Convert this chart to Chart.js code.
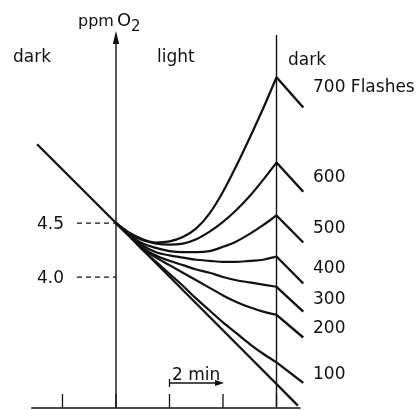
<!DOCTYPE html>
<html>
<head>
<meta charset="utf-8">
<script src="https://cdn.jsdelivr.net/npm/chart.js@4"></script>
<style>
  html, body { margin: 0; padding: 0; background: #fff; }
  #wrap { width: 417px; height: 410px; }
</style>
</head>
<body>
<div id="wrap"><canvas id="c" width="417" height="410"></canvas></div>
<script>
// ---- data (minutes, ppm O2) ----
const lightTimes = [0, 0.5, 1, 1.5, 2, 2.5, 3, 3.5, 4, 4.5, 5, 5.5, 6];
const flash700 = [4.50, 4.41, 4.35, 4.32, 4.33, 4.37, 4.45, 4.59, 4.79, 5.03, 5.29, 5.56, 5.85];
const flash600 = [4.50, 4.40, 4.34, 4.31, 4.30, 4.31, 4.35, 4.42, 4.51, 4.62, 4.75, 4.90, 5.06];
const flash500 = [4.50, 4.39, 4.31, 4.27, 4.24, 4.23, 4.23, 4.24, 4.28, 4.33, 4.40, 4.48, 4.57];
const flash400 = [4.50, 4.38, 4.29, 4.23, 4.20, 4.18, 4.16, 4.15, 4.14, 4.14, 4.15, 4.16, 4.19];
const flash300 = [4.50, 4.38, 4.27, 4.20, 4.15, 4.11, 4.07, 4.04, 4.00, 3.97, 3.95, 3.93, 3.91];
const flash200 = [4.50, 4.38, 4.26, 4.18, 4.11, 4.04, 3.97, 3.90, 3.83, 3.77, 3.72, 3.68, 3.65];
const flash100 = [4.50, 4.38, 4.25, 4.14, 4.03, 3.92, 3.80, 3.69, 3.58, 3.48, 3.38, 3.29, 3.21];
const flashSeries = [flash700, flash600, flash500, flash400, flash300, flash200, flash100];
const flashLabels = ['700 Flashes', '600', '500', '400', '300', '200', '100'];
const darkAfterTime = 7;
const darkAfterValues = [5.57, 4.79, 4.32, 3.94, 3.68, 3.44, 3.02];
// dark respiration line (no flashes)
const darkLineTimes = [-2.95, 0, 6, 6.8];
const darkLineValues = [5.23, 4.50, 3.01, 2.81];
// axis ticks
const xTickValues = [-2, 0, 2, 4, 6];
const yTickValues = [4.5, 4.0];
const yTickLabels = ['4.5', '4.0'];
const phaseLabels = ['dark', 'light', 'dark'];

// ---- build datasets ----
const INK = '#111';
const datasets = [];
datasets.push({
  data: darkLineTimes.map((t, i) => ({x: t, y: darkLineValues[i]})),
  borderColor: INK, borderWidth: 2.3, tension: 0, pointRadius: 0
});
flashSeries.forEach((s, k) => {
  datasets.push({
    data: lightTimes.map((t, i) => ({x: t, y: s[i]})),
    borderColor: INK, borderWidth: 2.2, cubicInterpolationMode: 'monotone', pointRadius: 0
  });
  datasets.push({
    data: [{x: lightTimes[lightTimes.length - 1], y: s[s.length - 1]}, {x: darkAfterTime, y: darkAfterValues[k]}],
    borderColor: INK, borderWidth: 2.4, tension: 0, pointRadius: 0
  });
});

const FONT = '"DejaVu Sans", sans-serif';

const decor = {
  id: 'decor',
  afterDatasetsDraw(chart) {
    const ctx = chart.ctx;
    const xs = chart.scales.x, ys = chart.scales.y;
    const X = v => xs.getPixelForValue(v);
    const Y = v => ys.getPixelForValue(v);
    ctx.save();
    ctx.strokeStyle = INK; ctx.fillStyle = INK;
    ctx.lineCap = 'butt';
    const yBottom = Y(2.787);
    // bottom axis
    ctx.lineWidth = 1.6;
    ctx.beginPath(); ctx.moveTo(X(-3.17), yBottom); ctx.lineTo(X(6.9), yBottom); ctx.stroke();
    // ticks
    ctx.lineWidth = 1.3;
    xTickValues.forEach(v => {
      ctx.beginPath(); ctx.moveTo(X(v), yBottom); ctx.lineTo(X(v), yBottom - 14); ctx.stroke();
    });
    // y axis (light on) with arrow
    ctx.lineWidth = 1.4;
    ctx.beginPath(); ctx.moveTo(X(0), yBottom); ctx.lineTo(X(0), 40); ctx.stroke();
    ctx.beginPath(); ctx.moveTo(X(0), 31); ctx.lineTo(X(0) - 3.2, 44); ctx.lineTo(X(0) + 3.2, 44); ctx.closePath(); ctx.fill();
    // light off vertical
    ctx.beginPath(); ctx.moveTo(X(6), yBottom); ctx.lineTo(X(6), 35); ctx.stroke();
    // dashed reference lines + tick labels
    ctx.lineWidth = 1.2;
    ctx.setLineDash([5, 4]);
    yTickValues.forEach(v => {
      ctx.beginPath(); ctx.moveTo(X(0) - 39, Y(v)); ctx.lineTo(X(0), Y(v)); ctx.stroke();
    });
    ctx.setLineDash([]);
    ctx.font = '17px ' + FONT;
    ctx.textBaseline = 'alphabetic';
    ctx.textAlign = 'left';
    yTickValues.forEach((v, i) => {
      ctx.fillText(yTickLabels[i], 37, Y(v) + 6);
    });
    // phase labels
    ctx.font = '17px ' + FONT;
    ctx.fillText(phaseLabels[0], 13, 62);
    ctx.fillText(phaseLabels[1], 157, 62);
    ctx.fillText(phaseLabels[2], 288, 65);
    // axis title
    ctx.font = '16px ' + FONT;
    ctx.fillText('ppm', 78, 26);
    ctx.font = '18px ' + FONT;
    ctx.fillText('O', 117, 26);
    ctx.font = '15px ' + FONT;
    ctx.fillText('2', 131, 31);
    // flash labels
    ctx.font = '17px ' + FONT;
    const labelBase = [92, 182, 233, 273, 304, 333, 379];
    flashLabels.forEach((t, i) => ctx.fillText(t, 313, labelBase[i]));
    // 2 min scale bar
    ctx.font = '17px ' + FONT;
    ctx.fillText('2 min', 172, 380);
    ctx.lineWidth = 1.3;
    const ay = 383, ax0 = X(2), ax1 = X(4);
    ctx.beginPath(); ctx.moveTo(ax0, ay); ctx.lineTo(ax1 - 6, ay); ctx.stroke();
    ctx.beginPath(); ctx.moveTo(ax0, ay - 4); ctx.lineTo(ax0, ay + 4); ctx.stroke();
    ctx.beginPath(); ctx.moveTo(ax1 + 1, ay); ctx.lineTo(ax1 - 8, ay - 3); ctx.lineTo(ax1 - 8, ay + 3); ctx.closePath(); ctx.fill();
    ctx.restore();
  }
};

new Chart(document.getElementById('c'), {
  type: 'line',
  data: { datasets },
  options: {
    responsive: false,
    animation: false,
    devicePixelRatio: 1,
    layout: { padding: 0 },
    plugins: { legend: { display: false }, tooltip: { enabled: false } },
    scales: {
      x: { type: 'linear', min: -4.336, max: 11.252, display: false },
      y: { type: 'linear', min: 2.769, max: 6.565, display: false }
    }
  },
  plugins: [decor]
});
</script>
</body>
</html>
